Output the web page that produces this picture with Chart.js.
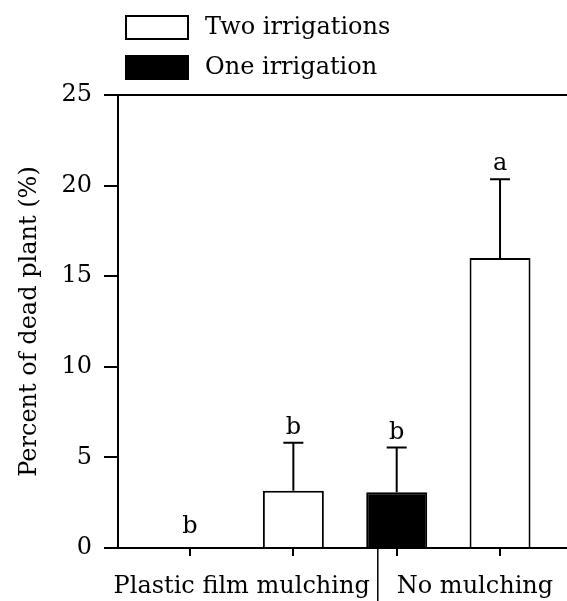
<!DOCTYPE html>
<html>
<head>
<meta charset="utf-8">
<script src="https://cdn.jsdelivr.net/npm/chart.js@4"></script>
<style>
  html, body { margin: 0; padding: 0; background: #fff; }
  #wrap { width: 567px; height: 601px; }
</style>
</head>
<body>
<div id="wrap"><canvas id="chart" width="567" height="601"></canvas></div>
<script>
"use strict";

// bar positions along x (1..4), grouped as plastic film / no mulching
const barSlots = [1, 2, 3, 4];
const groupLabels = ["Plastic film mulching", "No mulching"];
const sigLetters = ["b", "b", "b", "a"];

const twoLabel = "Two irrigations";
const twoSlots = [2, 4];
const twoValues = [3.16, 16.0];
const twoErrors = [2.65, 4.35];

const oneLabel = "One irrigation";
const oneSlots = [1, 3];
const oneValues = [0, 3.07];
const oneErrors = [0, 2.47];

const yTicks = [0, 5, 10, 15, 20, 25];

const FONT = "'DejaVu Serif', 'Liberation Serif', serif";
Chart.defaults.font.family = FONT;
Chart.defaults.color = "#000";

function toPoints(slots, values, errors) {
  return slots.map((x, i) => ({ x: x, y: values[i], err: errors[i] }));
}

const extrasPlugin = {
  id: "extras",
  afterDatasetsDraw(chart) {
    const ctx = chart.ctx;
    const xs = chart.scales.x;
    const ys = chart.scales.y;
    ctx.save();
    ctx.strokeStyle = "#000";
    ctx.fillStyle = "#000";
    ctx.lineWidth = 2;

    // error bars and letters
    const topBySlot = {};
    chart.data.datasets.forEach((ds) => {
      ds.data.forEach((p) => {
        const px = xs.getPixelForValue(p.x);
        const yBar = ys.getPixelForValue(p.y);
        const yCap = ys.getPixelForValue(p.y + p.err);
        if (p.err > 0) {
          ctx.beginPath();
          ctx.moveTo(px, yBar);
          ctx.lineTo(px, yCap);
          ctx.moveTo(px - 10, yCap);
          ctx.lineTo(px + 10, yCap);
          ctx.stroke();
        }
        topBySlot[p.x] = yCap;
      });
    });
    ctx.font = "24px " + FONT;
    ctx.textAlign = "center";
    ctx.textBaseline = "alphabetic";
    barSlots.forEach((slot, i) => {
      const px = xs.getPixelForValue(slot);
      const capY = topBySlot[slot];
      const offset = capY >= ys.getPixelForValue(0) - 1 ? 15 : 9;
      ctx.fillText(sigLetters[i], px, capY - offset);
    });

    // group labels below the axis, with divider
    const axisY = xs.top;
    const textY = axisY + 45;
    const leftCenter = xs.getPixelForValue((barSlots[0] + barSlots[1]) / 2);
    const leftW = ctx.measureText(groupLabels[0]).width;
    ctx.fillText(groupLabels[0], leftCenter, textY);
    const divX = leftCenter + leftW / 2 + 8;
    ctx.lineWidth = 1.5;
    ctx.beginPath();
    ctx.moveTo(divX, axisY);
    ctx.lineTo(divX, chart.height);
    ctx.stroke();
    ctx.textAlign = "left";
    ctx.fillText(groupLabels[1], divX + 19, textY);

    // legend
    ctx.lineWidth = 2;
    ctx.textBaseline = "middle";
    chart.data.datasets.forEach((ds, i) => {
      const bx = 126;
      const by = 16 + i * 40;
      ctx.fillStyle = ds.backgroundColor;
      ctx.fillRect(bx, by, 62, 23);
      ctx.strokeRect(bx, by, 62, 23);
      ctx.fillStyle = "#000";
      ctx.fillText(ds.label, 205, by + 12);
    });
    ctx.restore();
  }
};

new Chart(document.getElementById("chart"), {
  type: "bar",
  data: {
    datasets: [
      {
        label: twoLabel,
        data: toPoints(twoSlots, twoValues, twoErrors),
        backgroundColor: "#ffffff",
        borderColor: "#000000",
        borderWidth: 2,
        borderSkipped: "bottom"
      },
      {
        label: oneLabel,
        data: toPoints(oneSlots, oneValues, oneErrors),
        backgroundColor: "#000000",
        borderColor: "#000000",
        borderWidth: 2,
        borderSkipped: "bottom"
      }
    ]
  },
  options: {
    responsive: false,
    animation: false,
    devicePixelRatio: 1,
    categoryPercentage: 1,
    barPercentage: 0.59,
    layout: { padding: { top: 95, left: 0, right: 0, bottom: 0 } },
    plugins: {
      legend: { display: false },
      tooltip: { enabled: false }
    },
    scales: {
      x: {
        type: "linear",
        stacked: true,
        offset: false,
        min: 0.303,
        max: 4.648,
        afterBuildTicks: (scale) => { scale.ticks = barSlots.map((v) => ({ value: v })); },
        afterFit: (scale) => { scale.height = 53; },
        ticks: { display: false },
        grid: {
          offset: false,
          drawOnChartArea: false,
          tickLength: 8,
          tickColor: "#000",
          lineWidth: 2
        },
        border: { color: "#000", width: 2 }
      },
      y: {
        stacked: true,
        min: 0,
        max: 25,
        afterBuildTicks: (scale) => { scale.ticks = yTicks.map((v) => ({ value: v })); },
        afterFit: (scale) => { scale.width = 118; },
        ticks: {
          padding: 12,
          color: "#000",
          font: { size: 24 }
        },
        grid: {
          color: (c) => (c.tick && c.tick.value === 25 ? "#000" : "rgba(0,0,0,0)"),
          tickColor: "#000",
          tickLength: 14,
          lineWidth: 2
        },
        border: { color: "#000", width: 2 },
        title: {
          display: true,
          text: "Percent of dead plant (%)",
          color: "#000",
          font: { size: 24 },
          padding: { top: 15, bottom: 0 }
        }
      }
    }
  },
  plugins: [extrasPlugin]
});
</script>
</body>
</html>
